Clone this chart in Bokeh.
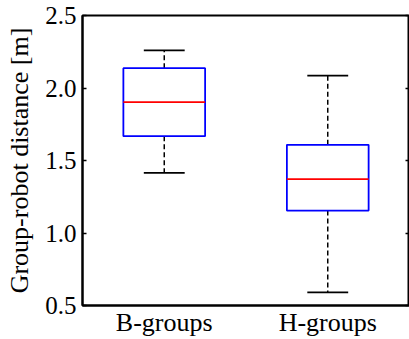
from bokeh.plotting import figure
from bokeh.models import LinearAxis, FixedTicker, Range1d
from bokeh.embed import file_html
from bokeh.resources import INLINE

# Data
categories = ["B-groups", "H-groups"]
positions = [1, 2]
lower_whisker = [1.415, 0.59]
q1 = [1.668, 1.155]
median = [1.902, 1.371]
q3 = [2.137, 1.608]
upper_whisker = [2.259, 2.086]

y_ticks = [0.5, 1.0, 1.5, 2.0, 2.5]
y_tick_labels = ["0.5", "1.0", "1.5", "2.0", "2.5"]

FONT = "Liberation Serif"
box_w = 0.5
cap_w = 0.25

p = figure(width=409, height=339, output_backend="svg", toolbar_location=None,
           x_range=Range1d(0.5, 2.5), y_range=Range1d(0.5, 2.5),
           min_border_left=82, min_border_right=0, min_border_top=15, min_border_bottom=34)
p.grid.visible = False
p.background_fill_color = "white"
p.border_fill_color = "white"
p.outline_line_color = "black"
p.outline_line_width = 2

# x axis
p.xaxis.ticker = FixedTicker(ticks=positions)
p.xaxis.major_label_overrides = {pos: c for pos, c in zip(positions, categories)}
p.xaxis.major_tick_in = 0
p.xaxis.major_tick_out = 0
p.xaxis.minor_tick_line_color = None
p.xaxis.axis_line_color = "black"
p.xaxis.axis_line_width = 2
p.xaxis.major_label_text_font = FONT
p.xaxis.major_label_text_font_size = "26px"
p.xaxis.major_label_text_color = "black"
p.xaxis.major_label_standoff = 2

# y axis
p.yaxis.ticker = FixedTicker(ticks=y_ticks)
p.yaxis.major_label_overrides = {t: l for t, l in zip(y_ticks, y_tick_labels)}
p.yaxis.major_tick_in = 4
p.yaxis.major_tick_out = 0
p.yaxis.major_tick_line_width = 1.5
p.yaxis.minor_tick_line_color = None
p.yaxis.axis_line_color = "black"
p.yaxis.axis_line_width = 2
p.yaxis.major_label_text_font = FONT
p.yaxis.major_label_text_font_size = "25px"
p.yaxis.major_label_text_color = "black"
p.yaxis.major_label_standoff = 6
p.yaxis.axis_label = "Group-robot distance [m]"
p.yaxis.axis_label_text_font = FONT
p.yaxis.axis_label_text_font_size = "26px"
p.yaxis.axis_label_text_font_style = "normal"
p.yaxis.axis_label_text_color = "black"
p.yaxis.axis_label_standoff = 8

right_axis = LinearAxis(ticker=FixedTicker(ticks=y_ticks), major_label_text_color=None,
                        major_tick_in=4, major_tick_out=0, major_tick_line_width=1.5,
                        minor_tick_line_color=None,
                        axis_line_color="black", axis_line_width=2, major_label_standoff=0)
p.add_layout(right_axis, "right")

# whiskers
p.segment(x0=positions, y0=q3, x1=positions, y1=upper_whisker,
          line_color="black", line_width=1.5, line_dash="5 3")
p.segment(x0=positions, y0=q1, x1=positions, y1=lower_whisker,
          line_color="black", line_width=1.5, line_dash="5 3")
# caps
p.segment(x0=[x - cap_w / 2 for x in positions], y0=upper_whisker,
          x1=[x + cap_w / 2 for x in positions], y1=upper_whisker,
          line_color="black", line_width=1.8)
p.segment(x0=[x - cap_w / 2 for x in positions], y0=lower_whisker,
          x1=[x + cap_w / 2 for x in positions], y1=lower_whisker,
          line_color="black", line_width=1.8)
# boxes
p.vbar(x=positions, width=box_w, bottom=q1, top=q3, fill_color="white",
       line_color="#0000ff", line_width=1.8)
# medians
p.segment(x0=[x - box_w / 2 for x in positions], y0=median,
          x1=[x + box_w / 2 for x in positions], y1=median,
          line_color="#ff0000", line_width=1.8)

open("out.html", "w").write(file_html(p, INLINE))
